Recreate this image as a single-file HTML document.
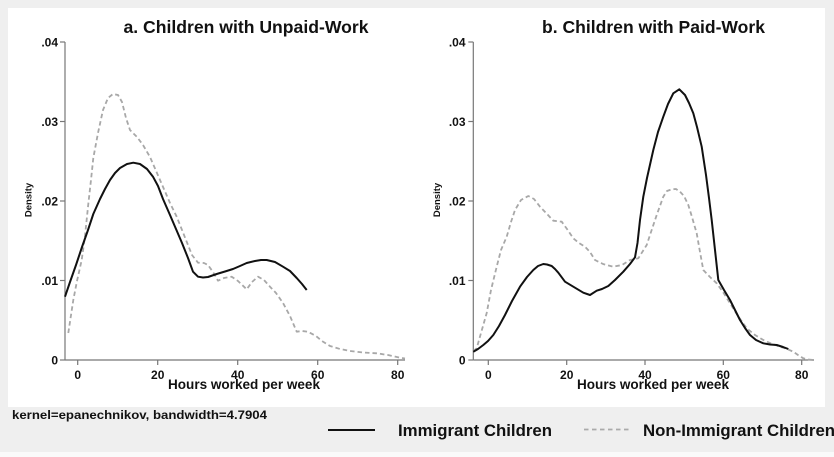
<!DOCTYPE html>
<html><head><meta charset="utf-8"><style>
html,body{margin:0;padding:0;background:#efefef;}
svg{display:block;}
text{font-family:"Liberation Sans",Arial,sans-serif;font-weight:bold;fill:#111;}
</style></head><body>
<svg width="834" height="457" viewBox="0 0 834 457" xmlns="http://www.w3.org/2000/svg">
<rect x="0" y="0" width="834" height="457" fill="#efefef"/>
<rect x="8" y="8" width="817" height="399" fill="#ffffff"/>
<rect x="0" y="452" width="834" height="5" fill="#fafafa"/>

<!-- Titles -->
<text x="246" y="33" font-size="17.5" text-anchor="middle" textLength="245" lengthAdjust="spacingAndGlyphs">a. Children with Unpaid-Work</text>
<text x="653.5" y="33" font-size="17.5" text-anchor="middle" textLength="223" lengthAdjust="spacingAndGlyphs">b. Children with Paid-Work</text>

<!-- LEFT AXES -->
<g stroke="#777" stroke-width="1.2" fill="none">
<line x1="65" y1="42" x2="65" y2="360"/>
<line x1="65" y1="360" x2="405" y2="360"/>
<line x1="60" y1="42" x2="65" y2="42"/>
<line x1="60" y1="121.5" x2="65" y2="121.5"/>
<line x1="60" y1="201" x2="65" y2="201"/>
<line x1="60" y1="280.5" x2="65" y2="280.5"/>
<line x1="60" y1="360" x2="65" y2="360"/>
<line x1="77.7" y1="360" x2="77.7" y2="365"/>
<line x1="157.7" y1="360" x2="157.7" y2="365"/>
<line x1="237.7" y1="360" x2="237.7" y2="365"/>
<line x1="317.7" y1="360" x2="317.7" y2="365"/>
<line x1="397.7" y1="360" x2="397.7" y2="365"/>
</g>
<g font-size="12" text-anchor="end">
<text x="58" y="46.5">.04</text>
<text x="58" y="126">.03</text>
<text x="58" y="205.5">.02</text>
<text x="58" y="285">.01</text>
<text x="58" y="364.5">0</text>
</g>
<g font-size="12" text-anchor="middle">
<text x="77.7" y="379">0</text>
<text x="157.7" y="379">20</text>
<text x="237.7" y="379">40</text>
<text x="317.7" y="379">60</text>
<text x="397.7" y="379">80</text>
</g>
<text x="244" y="389" font-size="13.5" text-anchor="middle" textLength="152" lengthAdjust="spacingAndGlyphs">Hours worked per week</text>
<text transform="translate(31.5,200) rotate(-90)" font-size="9.5" text-anchor="middle">Density</text>

<!-- RIGHT AXES -->
<g stroke="#777" stroke-width="1.2" fill="none">
<line x1="473.3" y1="42" x2="473.3" y2="360"/>
<line x1="473.3" y1="360" x2="814" y2="360"/>
<line x1="468.3" y1="42" x2="473.3" y2="42"/>
<line x1="468.3" y1="121.5" x2="473.3" y2="121.5"/>
<line x1="468.3" y1="201" x2="473.3" y2="201"/>
<line x1="468.3" y1="280.5" x2="473.3" y2="280.5"/>
<line x1="468.3" y1="360" x2="473.3" y2="360"/>
<line x1="488.3" y1="360" x2="488.3" y2="365"/>
<line x1="566.7" y1="360" x2="566.7" y2="365"/>
<line x1="645" y1="360" x2="645" y2="365"/>
<line x1="723.3" y1="360" x2="723.3" y2="365"/>
<line x1="801.7" y1="360" x2="801.7" y2="365"/>
</g>
<g font-size="12" text-anchor="end">
<text x="465.5" y="46.5">.04</text>
<text x="465.5" y="126">.03</text>
<text x="465.5" y="205.5">.02</text>
<text x="465.5" y="285">.01</text>
<text x="465.5" y="364.5">0</text>
</g>
<g font-size="12" text-anchor="middle">
<text x="488.3" y="379">0</text>
<text x="566.7" y="379">20</text>
<text x="645" y="379">40</text>
<text x="723.3" y="379">60</text>
<text x="801.7" y="379">80</text>
</g>
<text x="653" y="389" font-size="13.5" text-anchor="middle" textLength="152" lengthAdjust="spacingAndGlyphs">Hours worked per week</text>
<text transform="translate(440,200) rotate(-90)" font-size="9.5" text-anchor="middle">Density</text>

<!-- LEFT CURVES -->
<polyline fill="none" stroke="#a8a8a8" stroke-width="1.8" stroke-dasharray="4.5,3" stroke-linejoin="round"
points="68.3,333 73.3,300 77,281 81.7,260 85,236 88.3,204 91,180 93.3,158 98,133 103,110 108,98 113,94 118,95 122,102 126,118 130,130 137,137 143,145 150,157 160,180 170,203 176.7,216.7 180,225 186,240 192,255 198,262.7 204,263 208,265 213,272 218,280.7 224,278 231.7,276.7 238,281 246.7,289.3 252,282 258,276.7 264,280 270,286.7 276,293 283,303 290,316 296.7,331.7 302,331 308,331.7 316,336 322,341 330,346 340,349 350,351 363,352.5 376.7,353.3 388,355 400,357.7 405,358.5"/>
<polyline fill="none" stroke="#111" stroke-width="2" stroke-linejoin="round"
points="65,296.7 70,282 76,265 82,247 88,230 93.3,214 100,199 105,189 110,180 115,173 120,168 127,164 133.3,162.7 140,164 147,169 153,176.7 158,186 163,199 170,215 176,229 182,243 188,258 193,271.7 198,276.7 203,277.5 208,277 216.7,274 225,271.5 233,269 240,266 246.7,263 255,261 261,260 266.7,260 275,262 283,266.7 290,271 296.7,278 302,284 306.7,290"/>

<!-- RIGHT CURVES -->
<polyline fill="none" stroke="#a8a8a8" stroke-width="1.8" stroke-dasharray="4.5,3" stroke-linejoin="round"
points="473.5,351 476.7,348.3 481,333 486.7,313 491,290 496.7,266.7 501,250 506.7,236.7 511,222 515,210 521,200 528.3,196 534,199 540,206.7 547,214 553.3,220.7 561.7,221.7 567,229 573.3,238.3 579,243 585,246.7 590,252 595,260 603,264 613.3,266.7 622,265 630,260 638.3,258.3 646.7,245 651,232 656.7,215 663.3,196.7 667,191 671.7,189.3 676,189 680,191.7 684,196 688.3,205 692,217 696.7,233.3 700,252 703.3,270 710,277 716.7,283.3 723,292 730,303.3 738,316 746.7,328.3 755,335 763.3,340 771,343.5 780,346.7 787,349 793.3,351.7 798,355 803.3,358.3 808,359.5 813.3,360"/>
<polyline fill="none" stroke="#111" stroke-width="2" stroke-linejoin="round"
points="473.3,351.7 478,349 483.3,345 488,341 493.3,335 499,326 505,315 512,301 520,286.7 527,277 533.3,270 538,266 543.3,264 547,264.5 551.7,266 555,269 558.3,272.7 565,281.7 573.3,286.7 583.3,292.7 590,295 596.7,290.7 602,289 608.3,286 615,280 623.3,271.7 630,264 635,257.3 637.5,243 640,220 643.3,196.7 647,178 653.3,150 658,132 663.3,116.7 668,104 673.3,93.3 679.3,89.3 685,95 689,103 693.3,113.3 697,127 701.7,146.7 706,175 709,198 711.7,220 715,250 718.3,280 724,290 730,300 735,310 740,320 745,328 750,335 756,340 763.3,343.3 770,344.5 776.7,345 783,347 788.3,349"/>

<!-- Note -->
<text x="12" y="419" font-size="11.5" textLength="255" lengthAdjust="spacingAndGlyphs">kernel=epanechnikov, bandwidth=4.7904</text>

<!-- Legend -->
<line x1="328" y1="430" x2="375" y2="430" stroke="#111" stroke-width="2"/>
<text x="398" y="436" font-size="16.8" textLength="154" lengthAdjust="spacingAndGlyphs">Immigrant Children</text>
<line x1="584" y1="429.5" x2="632" y2="429.5" stroke="#aaaaaa" stroke-width="1.8" stroke-dasharray="4.5,3.5"/>
<text x="643" y="436" font-size="16.8">Non-Immigrant Children</text>
</svg>
</body></html>
